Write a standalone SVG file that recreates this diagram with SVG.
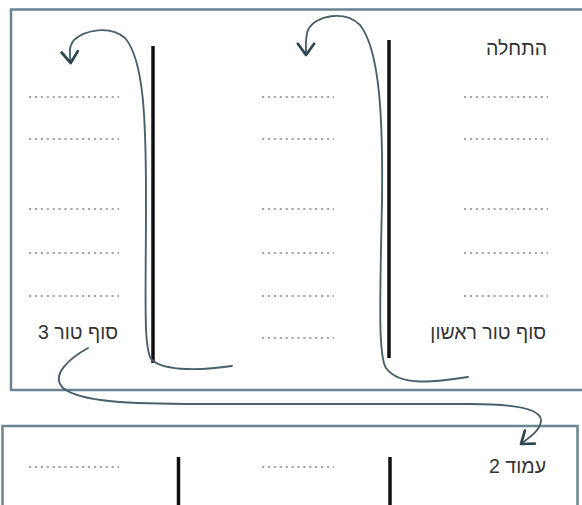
<svg xmlns="http://www.w3.org/2000/svg" width="582" height="505" viewBox="0 0 582 505">
<style>
.box{fill:#fff;stroke:#6a8490;stroke-width:2.5}
.bar{stroke:#111;stroke-width:3.5}
.dots{stroke:#8a8a8a;stroke-width:1.6;stroke-dasharray:2.2 3.7}
.con{fill:none;stroke:#48616d;stroke-width:1.9;stroke-linecap:round}
.lbl{font-family:"Liberation Sans","DejaVu Sans",sans-serif;font-size:19.5px;fill:#333;direction:rtl}
</style>
<defs>
<marker id="arr" markerUnits="userSpaceOnUse" markerWidth="20" markerHeight="20" viewBox="-12 -8 14 16" refX="0" refY="0" orient="auto">
<path d="M-9,-6.5 L0,0 L-9,6.5" fill="none" stroke="#2e4652" stroke-width="2.2" stroke-linecap="round" stroke-linejoin="round"/>
</marker>
</defs>
<rect width="582" height="505" fill="#fff"/>
<g id="page1">
<rect class="box" x="11" y="9.5" width="600" height="380.5"/>
<line class="bar" x1="153" y1="46" x2="153" y2="363"/>
<line class="bar" x1="389" y1="40" x2="389" y2="358"/>
<g id="col1-dots">
<line class="dots" x1="464" y1="97" x2="548" y2="97"/>
<line class="dots" x1="464" y1="139" x2="548" y2="139"/>
<line class="dots" x1="464" y1="209" x2="548" y2="209"/>
<line class="dots" x1="464" y1="253" x2="548" y2="253"/>
<line class="dots" x1="464" y1="296" x2="548" y2="296"/>
</g>
<g id="col2-dots">
<line class="dots" x1="262" y1="97" x2="334" y2="97"/>
<line class="dots" x1="262" y1="139" x2="334" y2="139"/>
<line class="dots" x1="262" y1="209" x2="334" y2="209"/>
<line class="dots" x1="262" y1="253" x2="334" y2="253"/>
<line class="dots" x1="262" y1="296" x2="334" y2="296"/>
<line class="dots" x1="262" y1="338" x2="334" y2="338"/>
</g>
<g id="col3-dots">
<line class="dots" x1="29" y1="97" x2="119" y2="97"/>
<line class="dots" x1="29" y1="139" x2="119" y2="139"/>
<line class="dots" x1="29" y1="209" x2="119" y2="209"/>
<line class="dots" x1="29" y1="253" x2="119" y2="253"/>
<line class="dots" x1="29" y1="296" x2="119" y2="296"/>
</g>
<text id="start" class="lbl" x="547" y="55">התחלה</text>
<text id="end1" class="lbl" x="546" y="339">סוף טור ראשון</text>
<text id="end3" class="lbl" x="118" y="339">סוף טור 3</text>
</g>
<g id="page2">
<rect class="box" x="2.5" y="426" width="575" height="100"/>
<line class="bar" x1="178.5" y1="457" x2="178.5" y2="510"/>
<line class="bar" x1="390" y1="457" x2="390" y2="510"/>
<line class="dots" x1="29" y1="467" x2="119" y2="467"/>
<line class="dots" x1="262" y1="467" x2="334" y2="467"/>
<text id="page2-label" class="lbl" x="546" y="473">עמוד 2</text>
</g>
<g id="connectors">
<path class="con" marker-end="url(#arr)" d="M468,377 C435,382 400,387 386,368 C378,355 380,300 382,200 C383,120 380,50 360,25 C345,10 315,15 308,30 C305,38 306,46 306,55"/>
<path class="con" marker-end="url(#arr)" d="M232,366 C205,370 165,372 152,360 C143,350 146,300 146,200 C146,120 144,60 125,38 C110,25 85,30 74,40 C68,47 70,55 70.7,63"/>
<path class="con" marker-end="url(#arr)" d="M88,348 C70,358 50,375 63,388 C80,402 130,404 200,404 L470,404 C510,404 540,408 541,420 C541,430 530,437 521,444"/>
</g>
</svg>
